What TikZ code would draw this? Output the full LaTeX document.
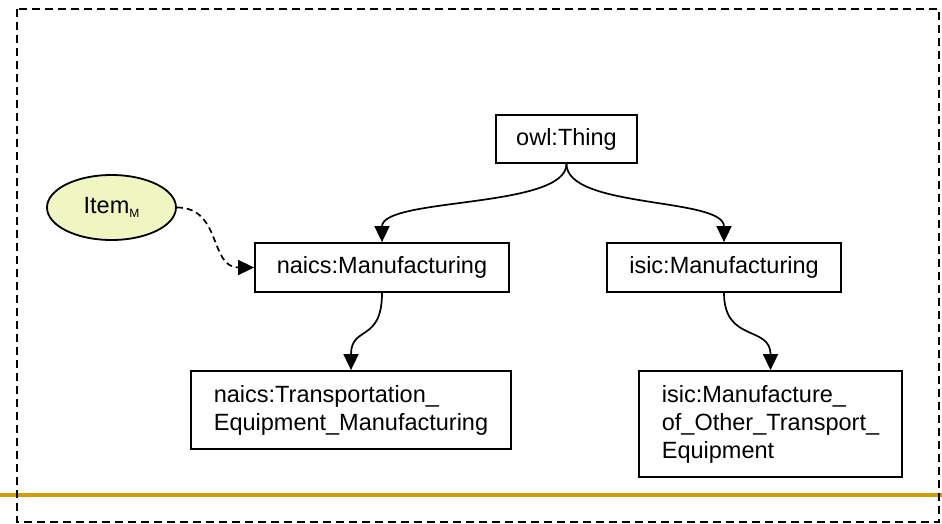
\documentclass[tikz,border=0pt]{standalone}
\usepackage{fontspec}
\setmainfont{Liberation Sans}
\usetikzlibrary{arrows.meta,shapes.geometric}
\definecolor{gold}{RGB}{208,158,0}
\definecolor{itemfill}{RGB}{240,246,194}
\tikzset{
  classbox/.style={draw, line width=1.8pt, inner sep=0pt, font=\fontsize{23.5}{28}\selectfont},
  link/.style={line width=1.7pt, -{Triangle[length=16pt,width=15pt]}},
  instlink/.style={link, dash pattern=on 6pt off 4pt},
}
\begin{document}
\begin{tikzpicture}[x=1pt,y=-1pt]
  \useasboundingbox (0,0) rectangle (942,524);
  % gold rule and dashed frame
  \draw[gold, line width=3.5pt] (0,495) -- (942,495);
  \draw[line width=2.2pt, dash pattern=on 8pt off 5pt] (17,9) rectangle (939,522);

  % class hierarchy
  \node[classbox, minimum width=141pt, minimum height=48pt] (owl) at (566.5,139) {owl:Thing};
  \node[classbox, minimum width=254pt, minimum height=49pt] (nm) at (382,267.5) {naics:Manufacturing};
  \node[classbox, minimum width=234pt, minimum height=49pt] (im) at (724,267.5) {isic:Manufacturing};
  \node[classbox, minimum width=320pt, minimum height=78pt, align=left] (nt) at (351,410)
    {naics:Transportation\_\\Equipment\_Manufacturing};
  \node[classbox, minimum width=263pt, minimum height=106pt, align=left] (ib) at (770.5,424)
    {isic:Manufacture\_\\of\_Other\_Transport\_\\Equipment};

  % instance
  \node[ellipse, draw, line width=1.8pt, fill=itemfill, minimum width=129pt, minimum height=65pt,
        inner sep=0pt, font=\fontsize{23.5}{28}\selectfont] (item) at (111.5,207.5)
    {Item\raisebox{-0.35ex}{\fontsize{12}{12}\selectfont M}};

  % subclass links
  \draw[link] (owl.south) .. controls +(0,45) and +(0,-45) .. (nm.north);
  \draw[link] (owl.south) .. controls +(0,45) and +(0,-45) .. (im.north);
  \draw[link] (nm.south) .. controls +(0,50) and +(0,-45) .. (nt.north);
  \draw[link] (im.south) .. controls +(0,50) and +(0,-45) .. (ib.north);

  % type link
  \draw[instlink] (item.east) .. controls +(45,0) and +(-45,0) .. (nm.west);
\end{tikzpicture}
\end{document}
